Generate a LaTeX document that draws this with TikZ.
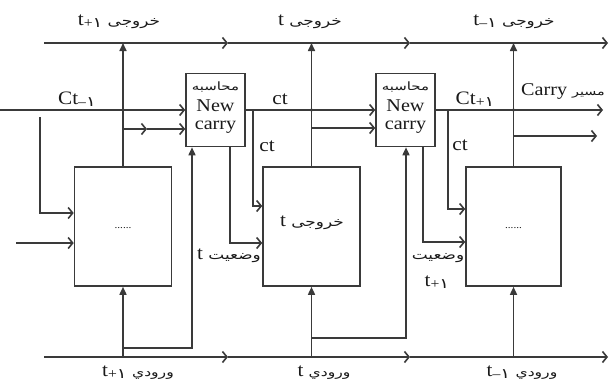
\documentclass[tikz,border=0pt]{standalone}
\usepackage{fontspec}
\setmainfont{Liberation Serif}[FakeStretch=1.12]
\newfontfamily\fa[Script=Arabic,FakeStretch=1.3]{DejaVu Sans}
\TeXXeTstate=1
\usetikzlibrary{arrows.meta}
\definecolor{lc}{HTML}{3A3A3A}
\definecolor{tc}{HTML}{1A1A1A}
\newcommand\fw[2][12]{{\fa\fontsize{#1}{#1}\selectfont\beginR #2\endR}}
\newcommand\fdig{{\fa ۱}}
\newcommand\lsub[1]{\raisebox{-1.5pt}{\fontsize{14}{14}\selectfont #1}}
\tikzset{
  line/.style={draw=lc, line width=1.6pt},
  harr/.style={-{Straight Barb[length=4.5pt,width=11pt]}},
  varr/.style={-{Triangle[length=8pt,width=7pt]}},
  blk/.style={draw=lc, line width=1.6pt, minimum width=97pt, minimum height=119pt, inner sep=0pt},
  cbox/.style={draw=lc, line width=1.6pt, minimum width=59pt, minimum height=73pt, inner sep=0pt},
  lab/.style={text=tc, inner sep=0pt, font=\fontsize{19}{21}\selectfont},
  big/.style={text=tc, inner sep=0pt, font=\fontsize{18}{20}\selectfont},
}
\begin{document}
\begin{tikzpicture}[x=1pt,y=-1pt]
\useasboundingbox (0,0) rectangle (610,383);
\fill[white] (0,0) rectangle (610,383);

% blocks
\node[blk] (b1) at (123,226.5) {};
\node[blk] (b2) at (311.5,226.5) {};
\node[blk, minimum width=95pt] (b3) at (513.5,226.5) {};
\node[cbox] (c1) at (215.5,110) {};
\node[cbox] (c2) at (405.5,110) {};

% coordinates
\coordinate (T0) at (44,43);  \coordinate (T1) at (228,43);
\coordinate (T2) at (410,43); \coordinate (T3) at (608,43);
\coordinate (B0) at (44,357); \coordinate (B1) at (228,357);
\coordinate (B2) at (410,357); \coordinate (B3) at (608,357);
\coordinate (L0) at (0,110);
\coordinate (L1) at (40,117); \coordinate (L2) at (40,213);
\coordinate (L3) at (16,243);
\coordinate (M1) at (147,129); \coordinate (N1) at (0,129);
\coordinate (K1) at (253,110); \coordinate (K1b) at (253,206);
\coordinate (S1) at (230,243);
\coordinate (Q1) at (192,348);
\coordinate (K2) at (448,110); \coordinate (K2b) at (448,209);
\coordinate (S2) at (423,242);
\coordinate (Q2) at (406,338);
\coordinate (R1) at (603,110);
\coordinate (R2) at (597,136);

% top and bottom buses
\draw[line,harr] (T0) -- (T1);
\draw[line,harr] (T1) -- (T2);
\draw[line,harr] (T2) -- (T3);
\draw[line,harr] (B0) -- (B1);
\draw[line,harr] (B1) -- (B2);
\draw[line,harr] (B2) -- (B3);

% block outputs to top bus
\draw[line,varr] (b1.north) -- (b1.north |- T0);
\draw[line,varr] (b2.north) -- (b2.north |- T0);
\draw[line,varr] (b3.north) -- (b3.north |- T0);
% inputs from bottom bus
\draw[line,varr] (b1.south |- B0) -- (b1.south);
\draw[line,varr] (b2.south |- B0) -- (b2.south);
\draw[line,varr] (b3.south |- B0) -- (b3.south);

% carry in
\draw[line,harr] (L0) -- (c1.west);
\draw[line,harr] (L1) -- (L2) -- (L2 -| b1.west);
\draw[line,harr] (L3) -- (L3 -| b1.west);
\draw[line,harr] (b1.north |- N1) -- (M1);
\draw[line,harr] (M1) -- (M1 -| c1.west);
\draw[line,harr] (c1.east) -- (c2.west);
\draw[line,harr] (b2.north |- c2.west) ++(0,18) -- ([yshift=-18pt]c2.west);
\draw[line,harr] (K1) -- (K1b) -- (K1b -| b2.west);
\draw[line,harr] (c1.south -| S1) -- (S1) -- (S1 -| b2.west);
\draw[line,varr] (b1.south |- Q1) -- (Q1) -- (Q1 |- c1.south);
\draw[line,harr] (K2) -- (K2b) -- (K2b -| b3.west);
\draw[line,harr] (c2.south -| S2) -- (S2) -- (S2 -| b3.west);
\draw[line,varr] (b2.south |- Q2) -- (Q2) -- (Q2 |- c2.south);
\draw[line,harr] (c2.east) -- (R1);
\draw[line,harr] (b3.north |- R2) -- (R2);

% junction dots
\fill[lc] (b1.north |- L0) circle (1.8pt);
\fill[lc] (b2.north |- L0) circle (1.8pt);
\fill[lc] (b3.north |- L0) circle (1.8pt);

% box texts
\node[inner sep=0pt,text=tc] (c1a) at (215.5,87) {\fw[11.5]{محاسبه}};
\node[big] (c1b) at (215.5,106) {New};
\node[big] (c1c) at (215.5,127) {carry};
\node[inner sep=0pt,text=tc] (c2a) at (405.5,87) {\fw[11.5]{محاسبه}};
\node[big] (c2b) at (405.5,106) {New};
\node[big] (c2c) at (405.5,127) {carry};

% block texts
\node[lab] (b1t) at (123,228) {\fontsize{10}{10}\selectfont ......};
\node[lab] (b2t) at (312,223) {t\ \fw[13]{خروجی}};
\node[lab] (b3t) at (513.5,228) {\fontsize{10}{10}\selectfont ......};

% top labels
\node[lab] (o1) at (119,22) {t\lsub{+\fdig}\ \fw[13]{خروجی}};
\node[lab] (o2) at (310,22) {t\ \fw[13]{خروجی}};
\node[lab] (o3) at (514,22) {t\lsub{--\fdig}\ \fw[13]{خروجی}};
% bottom labels
\node[lab] (i1) at (138,373) {t\lsub{+\fdig}\ \fw[12]{ورودي}};
\node[lab] (i2) at (324,373) {t\ \fw[12]{ورودي}};
\node[lab] (i3) at (522,373) {t\lsub{--\fdig}\ \fw[12]{ورودي}};

% wire labels
\node[lab] (ct1) at (77,99) {Ct\lsub{--\fdig}};
\node[lab] (ct2) at (280,99) {ct};
\node[lab] (ct3) at (475,99) {Ct\lsub{+\fdig}};
\node[lab] (cp) at (563,91) {\fontsize{18}{20}\selectfont Carry\ \fw[11]{مسیر}};
\node[lab] (ct4) at (267,146) {ct};
\node[lab] (ct5) at (460,145) {ct};
\node[lab] (w1) at (229,256) {t\ \fw[13]{وضعیت}};
\node[lab] (w2) at (438,258) {\fw[13]{وضعیت}};
\node[lab] (w3) at (437,282) {t\lsub{+\fdig}};
\end{tikzpicture}
\end{document}
